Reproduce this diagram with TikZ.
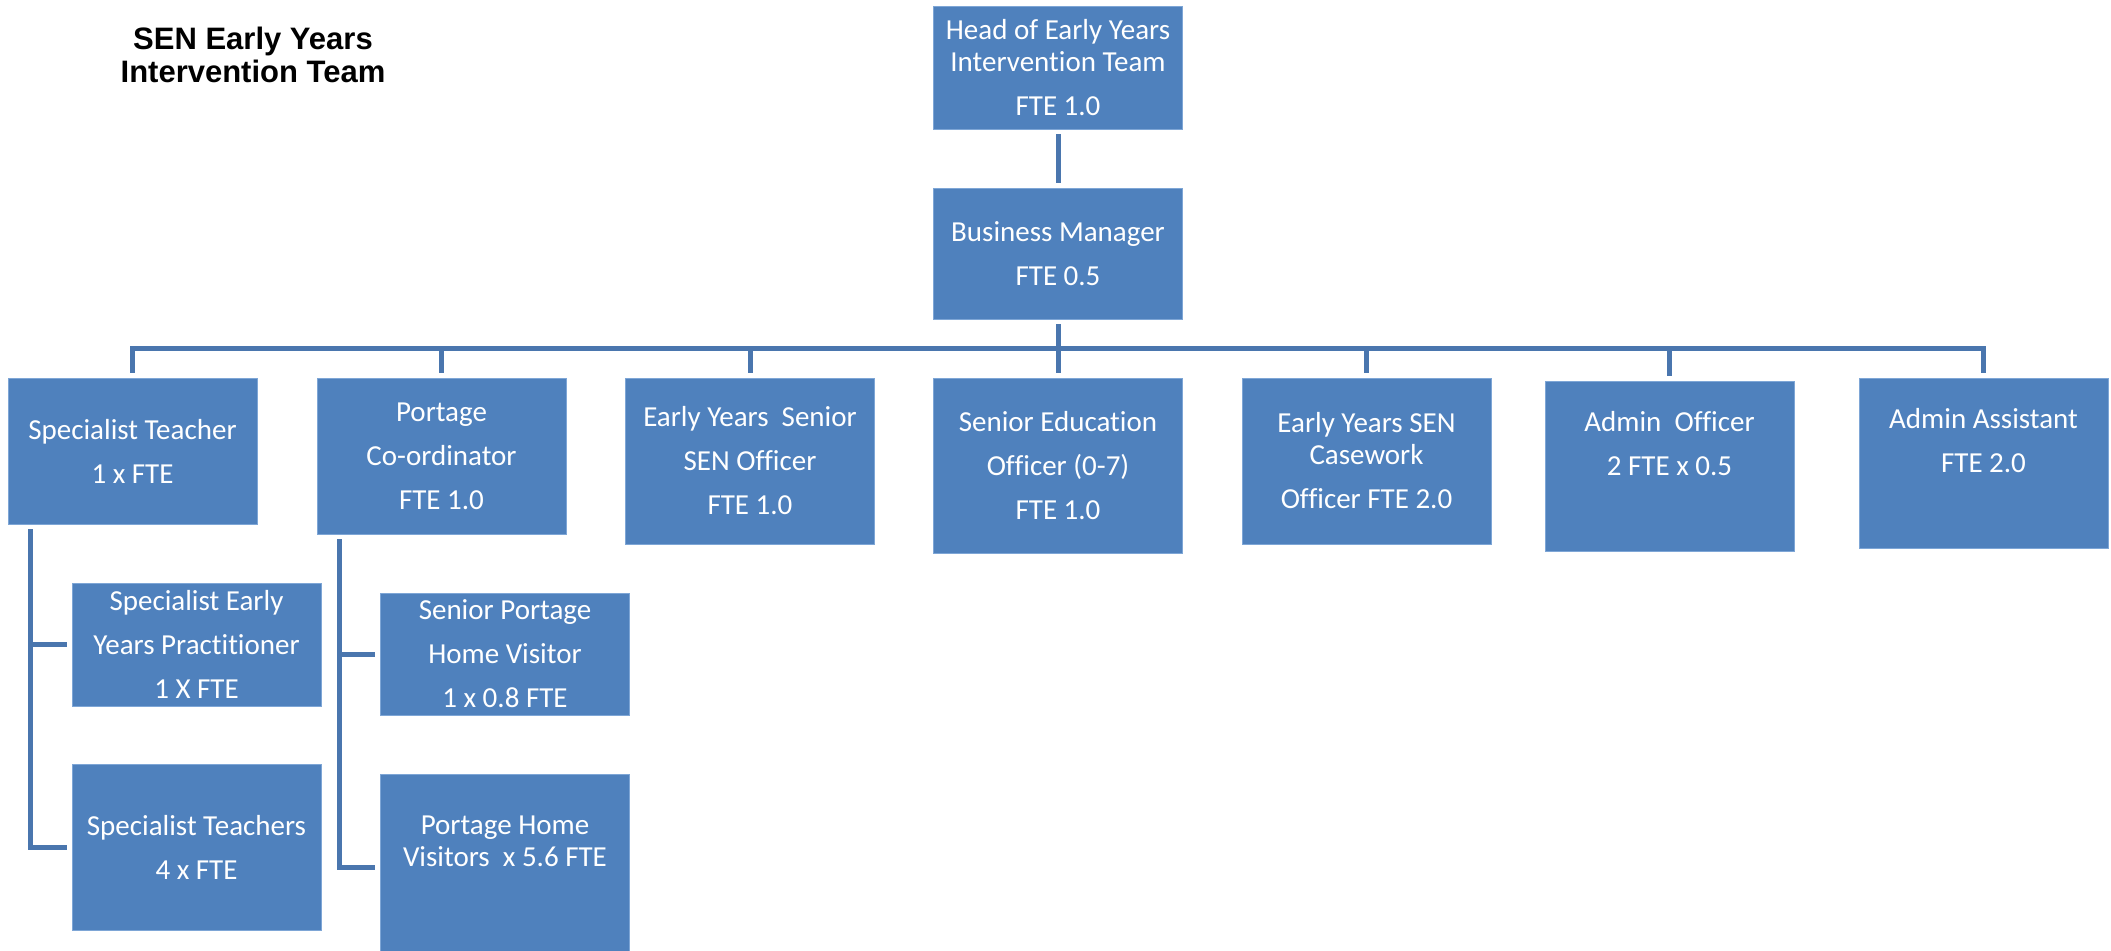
\documentclass[tikz,border=0pt]{standalone}
\usepackage{fontspec}
\setmainfont{Carlito}[Ligatures=NoCommon]
\newfontfamily\titlefont{Liberation Sans}
\usepackage{tikz}
\usetikzlibrary{calc}
\definecolor{boxfill}{HTML}{4F81BD}
\definecolor{boxedge}{HTML}{7EA6D6}
\definecolor{linkc}{HTML}{4A76AE}
\tikzset{
  post/.style={rectangle, fill=boxfill, draw=boxedge, line width=0.8pt, text=white, align=center,
    minimum width=249pt, inner sep=0pt, font=\fontsize{29}{32}\selectfont},
  link/.style={draw=linkc, line width=5pt},
  gap/.style={shorten <=5pt, shorten >=5pt},
  heading/.style={font=\titlefont\bfseries\fontsize{31}{33}\selectfont, align=center},
}

\begin{document}
\begin{tikzpicture}[x=1pt,y=-1pt]
  \useasboundingbox (0,0) rectangle (2111,950);
  \node[heading] (ttl) at (253,55) {SEN Early Years\\Intervention Team};

  % head and business manager
  \node[post, minimum height=123pt] (head) at (1058,67.5) {Head of Early Years\\Intervention Team\\[12pt]FTE 1.0};
  \node[post, minimum height=131pt] (bm) at (1058,253.5) {Business Manager\\[12pt]FTE 0.5};

  % second row
  \node[post, minimum height=146pt] (st) at (132.5,451) {Specialist Teacher\\[12pt]1 x FTE};
  \node[post, minimum height=156pt] (pc) at (441.5,456) {Portage\\[12pt]Co-ordinator\\[12pt]FTE 1.0};
  \node[post, minimum height=166pt] (eys) at (750,461) {Early Years~ Senior\\[12pt]SEN Officer\\[12pt]FTE 1.0};
  \node[post, minimum height=175pt] (seo) at (1058,465.5) {Senior Education\\[12pt]Officer (0-7)\\[12pt]FTE 1.0};
  \node[post, minimum height=166pt] (cw) at (1366.5,461) {Early Years SEN\\Casework\\[12pt]Officer FTE 2.0};
  \node[post, minimum height=170pt, text depth=46pt] (ao) at (1669.5,466) {Admin~ Officer\\[12pt]2 FTE x 0.5};
  \node[post, minimum height=170pt, text depth=46pt] (aa) at (1983.5,463) {Admin Assistant\\[12pt]FTE 2.0};

  % third row
  \node[post, minimum height=123pt] (sep) at (196.5,644.5) {Specialist Early\\[12pt]Years Practitioner\\[12pt]1 X FTE};
  \node[post, minimum height=166pt] (stt) at (196.5,847) {Specialist Teachers\\[12pt]4 x FTE};
  \node[post, minimum height=122pt] (spv) at (505,654) {Senior Portage\\[12pt]Home Visitor\\[12pt]1 x 0.8 FTE};
  \node[post, minimum height=186pt, text depth=52pt] (phv) at (505,867) {Portage Home\\Visitors~ x 5.6 FTE};

  % connectors
  \coordinate (bar) at (1058,348);
  \draw[link, gap] (head) -- (bm);
  \draw[link, gap] (bm) -- (seo);
  \draw[link, gap] (st.north) |- (bar) -| (aa.north);
  \foreach \n in {pc,eys,cw,ao}
    \draw[link, shorten >=5pt] (bar -| \n.north) -- (\n.north);
  \draw[link, gap] ([xshift=23pt]st.south west) |- (sep.west);
  \draw[link, gap] ([xshift=23pt]st.south west) |- (stt.west);
  \draw[link, gap] ([xshift=23pt]pc.south west) |- (spv.west);
  \draw[link, gap] ([xshift=23pt]pc.south west) |- (phv.west);
\end{tikzpicture}
\end{document}
